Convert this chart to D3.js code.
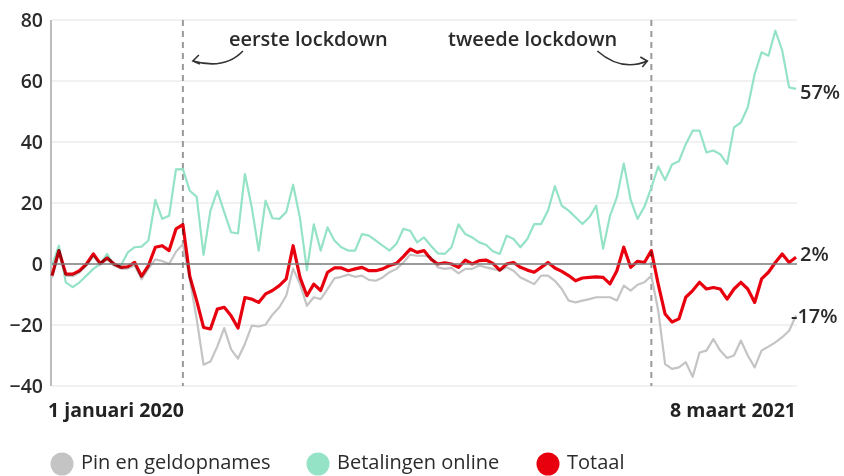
<!DOCTYPE html>
<html>
<head>
<meta charset="utf-8">
<script src="https://cdn.jsdelivr.net/npm/d3@7"></script>
<style>
  html, body { margin: 0; padding: 0; background: #fff; }
  svg { display: block; font-family: "Open Sans", sans-serif; }
</style>
</head>
<body>
<div id="chart"></div>
<script>
// Dagelijkse verandering t.o.v. 2019 (%), één waarde per 4 dagen vanaf 1 januari 2020
const startDate = new Date(2020, 0, 1);
const endDate = new Date(2021, 2, 8);
const stepDays = 4;

const pinValues = [
  -4.5, 3.5, -3.8, -4, -2.7, -0.5, 2.5, -0.3, 1.5, -0.5,
  -1.5, -1.5, -0.5, -5, -1.5, 1.5, 1, 0, 4, 6.5,
  -5, -18, -33, -32, -27, -21, -28, -31, -26.2, -20.2,
  -20.5, -19.9, -16.6, -14.2, -10.4, -1.5, -6.6, -13.7, -10.9, -11.5,
  -8.2, -4.7, -4.2, -3.5, -4.2, -3.8, -5.2, -5.5, -4.4, -2.7,
  -1.6, 0.5, 3.1, 2.7, 2.7, 2.2, -1.1, -1.6, -1.3, -3.1,
  -1.6, -1.6, -0.5, -1.1, -1.6, -2.2, -1.1, -2.2, -4.4, -5.5,
  -6.6, -3.8, -3.8, -5.5, -8.2, -12, -12.6, -12, -11.5, -10.9,
  -10.9, -10.9, -12, -7.1, -8.7, -6.8, -6, -3.8, -15.3, -32.8,
  -34.4, -33.9, -32.2, -37, -29, -28.4, -24.6, -28.4, -30.8, -30,
  -25.1, -30, -33.9, -28.4, -27.1, -25.7, -24, -21.9, -16.9
];

const onlineValues = [
  -0.5, 6.0, -6, -7.6, -6, -3.8, -1.6, 0, 3.3, -0.5,
  -0.5, 3.8, 5.5, 5.7, 7.7, 21, 14.8, 15.8, 31, 31.1,
  24, 22, 3, 17.5, 24, 17, 10.4, 10, 29.5, 18.6,
  4.4, 20.8, 15, 14.8, 17, 26, 15, -2, 13, 4.4,
  12, 7.7, 5.5, 4.4, 4.4, 9.8, 9.3, 7.7, 6, 4.4,
  6.6, 11.5, 10.9, 7.1, 8.7, 6, 3.5, 3.3, 5.5, 13,
  9.8, 8.7, 7.1, 6.3, 4.2, 3.3, 9.3, 8.2, 5.5, 8.2,
  13.1, 13.1, 17.5, 25.5, 19.1, 17.5, 15.3, 13.1, 15.3, 19.1,
  5, 15.8, 21.9, 33, 21, 14.8, 18.8, 25, 32, 27.5,
  32.6, 33.7, 39.3, 43.7, 43.7, 36.6, 37.2, 36, 32.8, 44.8,
  46.4, 51.4, 62.3, 69.4, 68.3, 76.5, 70, 57.9, 57.4
];

const totaalValues = [
  -3.8, 4.4, -3.3, -3.3, -2.2, 0, 3.3, 0.2, 2.0, 0,
  -1.1, -0.9, 0.5, -4, -0.5, 5.5, 6.0, 4.4, 11.5, 12.9,
  -4, -12, -20.8, -21.3, -14.8, -14.2, -17, -21, -11, -11.5,
  -12.6, -9.8, -8.7, -7.1, -4.9, 6, -4.4, -10.4, -6.6, -8.7,
  -2.7, -1.3, -1.3, -2.2, -1.6, -1.1, -2.2, -2.2, -1.6, -0.5,
  0.2, 2.4, 4.9, 3.8, 4.4, 1.6, 0, 0.4, 0, -1.1,
  1.3, 0, 1.1, 1.3, 0.2, -2, 0, 0.5, -1.1, -2,
  -2.7, -1.1, 0.5, -1.3, -2.4, -3.8, -5.5, -4.6, -4.4, -4.2,
  -4.4, -6.5, -2.2, 5.5, -1.1, 0.9, 0.5, 4.4, -6.6, -16.4,
  -19, -18, -10.9, -8.7, -6, -8.2, -7.7, -8.2, -11.5, -8.2,
  -6, -8.2, -12.6, -4.9, -2.7, 0.5, 3.3, 0.5, 2.2
];

const yTicks = [-40, -20, 0, 20, 40, 60, 80];
const lockdowns = [
  { date: new Date(2020, 2, 17), label: 'eerste lockdown', side: 'right' },
  { date: new Date(2020, 11, 14), label: 'tweede lockdown', side: 'left' }
];
const endLabels = ['-17%', '57%', '2%'];
const seriesNames = ['Pin en geldopnames', 'Betalingen online', 'Totaal'];
const dateLabels = ['1 januari 2020', '8 maart 2021'];

const colors = { pin: '#c4c4c4', online: '#95e3c6', totaal: '#e8000e' };

const width = 844, height = 476;
const plot = { left: 52, right: 796, top: 20, bottom: 386 };
const font = '"Open Sans", sans-serif';

const svg = d3.select('#chart').append('svg')
  .attr('width', width)
  .attr('height', height)
  .attr('viewBox', `0 0 ${width} ${height}`);

const x = d3.scaleTime().domain([startDate, endDate]).range([plot.left, plot.right]);
const y = d3.scaleLinear().domain([-40, 80]).range([plot.bottom, plot.top]);

const toPoints = vals => vals.map((v, i) => ({ date: d3.timeDay.offset(startDate, i * stepDays), value: v }));
const series = [
  { key: 'online', values: toPoints(onlineValues), width: 2.2 },
  { key: 'pin', values: toPoints(pinValues), width: 2.2 },
  { key: 'totaal', values: toPoints(totaalValues), width: 3.2 }
];

// gridlines
svg.append('g').attr('class', 'grid')
  .selectAll('line')
  .data(yTicks.filter(t => t !== 0))
  .join('line')
  .attr('x1', plot.left).attr('x2', plot.right + 1)
  .attr('y1', d => y(d)).attr('y2', d => y(d))
  .attr('stroke', '#e4e4e4').attr('stroke-width', 1.2);

// y axis labels
const yAxis = svg.append('g')
  .attr('transform', `translate(${plot.left}, 0)`)
  .call(d3.axisLeft(y).tickValues(yTicks).tickSize(0).tickPadding(9));
yAxis.select('.domain').remove();
yAxis.selectAll('text')
  .attr('font-family', font)
  .attr('font-size', 19.5)
  .attr('font-weight', 600)
  .attr('fill', '#2b2b2b');

// left axis line
svg.append('line')
  .attr('x1', plot.left - 1).attr('x2', plot.left - 1)
  .attr('y1', plot.top).attr('y2', plot.bottom)
  .attr('stroke', '#bdbdbd').attr('stroke-width', 2);

// lockdown markers
svg.append('g').selectAll('line')
  .data(lockdowns)
  .join('line')
  .attr('x1', d => x(d.date)).attr('x2', d => x(d.date))
  .attr('y1', plot.top).attr('y2', plot.bottom)
  .attr('stroke', '#9a9a9a').attr('stroke-width', 2)
  .attr('stroke-dasharray', '6,5');

// lines
const line = d3.line()
  .x(d => x(d.date))
  .y(d => y(d.value))
  .curve(d3.curveLinear);

svg.append('g').selectAll('path')
  .data(series)
  .join('path')
  .attr('d', d => line(d.values))
  .attr('fill', 'none')
  .attr('stroke', d => colors[d.key])
  .attr('stroke-width', d => d.width)
  .attr('stroke-linejoin', 'round')
  .style('mix-blend-mode', d => d.key === 'totaal' ? 'multiply' : null);

// zero line
svg.append('line')
  .attr('x1', plot.left).attr('x2', plot.right + 1)
  .attr('y1', y(0)).attr('y2', y(0))
  .attr('stroke', '#7a7a7a').attr('stroke-width', 1.4);

// annotations
const ann = svg.append('g')
  .attr('font-family', font)
  .attr('font-size', 20)
  .attr('font-weight', 600)
  .attr('fill', '#2b2b2b');

lockdowns.forEach(d => {
  const lx = x(d.date);
  if (d.side === 'right') {
    ann.append('text').attr('x', lx + 46).attr('y', 46).text(d.label);
    const tip = [lx + 10, 61];
    ann.append('path')
      .attr('d', `M${lx + 60},51 Q${lx + 42},70 ${tip[0]},${tip[1]}`)
      .attr('fill', 'none').attr('stroke', '#333').attr('stroke-width', 1.6);
    ann.append('path')
      .attr('d', `M${tip[0] + 6},${tip[1] - 6} L${tip[0]},${tip[1]} L${tip[0] + 7},${tip[1] + 3}`)
      .attr('fill', 'none').attr('stroke', '#333').attr('stroke-width', 1.6);
  } else {
    ann.append('text').attr('x', lx - 34).attr('y', 46).attr('text-anchor', 'end').text(d.label);
    const tip = [lx - 4, 61];
    ann.append('path')
      .attr('d', `M${lx - 54},51 Q${lx - 30},72 ${tip[0]},${tip[1]}`)
      .attr('fill', 'none').attr('stroke', '#333').attr('stroke-width', 1.6);
    ann.append('path')
      .attr('d', `M${tip[0] - 7},${tip[1] - 4} L${tip[0]},${tip[1]} L${tip[0] - 5},${tip[1] + 6}`)
      .attr('fill', 'none').attr('stroke', '#333').attr('stroke-width', 1.6);
  }
});

// end value labels
const lastIdx = totaalValues.length - 1;
const ends = [
  { text: endLabels[0], value: pinValues[lastIdx], dx: -5, dy: 2 },
  { text: endLabels[1], value: onlineValues[lastIdx], dx: 4, dy: 5 },
  { text: endLabels[2], value: totaalValues[lastIdx], dx: 4, dy: -2 }
];
svg.append('g')
  .attr('font-family', font)
  .attr('font-size', 20)
  .attr('font-weight', 600)
  .attr('fill', '#2b2b2b')
  .selectAll('text')
  .data(ends)
  .join('text')
  .attr('x', d => plot.right + d.dx)
  .attr('y', d => y(d.value) + d.dy)
  .attr('dominant-baseline', 'middle')
  .text(d => d.text);

// date labels
const dl = svg.append('g')
  .attr('font-family', font)
  .attr('font-size', 19.5)
  .attr('font-weight', 700)
  .attr('fill', '#222');
dl.append('text').attr('x', plot.left - 4).attr('y', 417).text(dateLabels[0]);
dl.append('text').attr('x', plot.right).attr('y', 417).attr('text-anchor', 'end').text(dateLabels[1]);

// legend
const legendX = [62, 318, 548];
const legendKeys = ['pin', 'online', 'totaal'];
const legend = svg.append('g')
  .selectAll('g')
  .data(seriesNames)
  .join('g')
  .attr('transform', (d, i) => `translate(${legendX[i]}, 464)`);
legend.append('circle').attr('r', 11.5).attr('fill', (d, i) => colors[legendKeys[i]]);
legend.append('text')
  .attr('x', 19).attr('y', 5)
  .attr('font-family', font)
  .attr('font-size', 20)
  .attr('font-weight', 500)
  .attr('fill', '#2b2b2b')
  .text(d => d);
</script>
</body>
</html>
